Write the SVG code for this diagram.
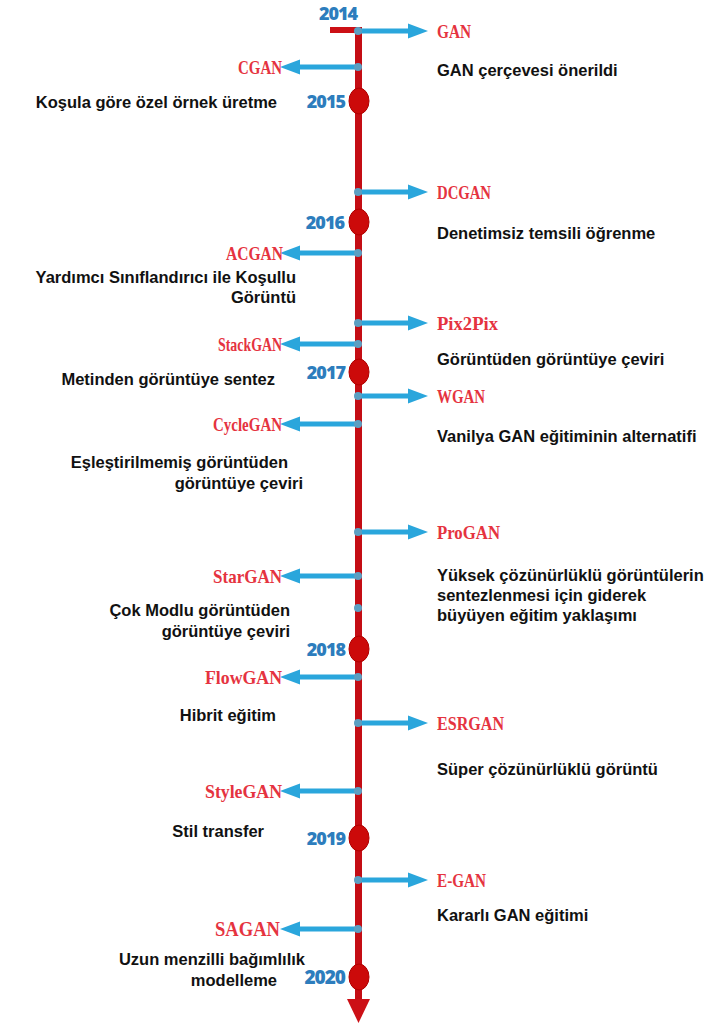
<svg xmlns="http://www.w3.org/2000/svg" width="727" height="1027" viewBox="0 0 727 1027">
<defs>
<style>
.yr{font-family:"Open Sans","DejaVu Sans",sans-serif;font-weight:800;font-size:18px;fill:#2d7dbd;letter-spacing:-1px}
.nm{font-family:"Liberation Serif","DejaVu Serif",serif;font-weight:bold;font-size:19px;fill:#e53340}
.ds{font-family:"Liberation Sans",Arial,sans-serif;font-weight:bold;font-size:16.5px;fill:#111}
.arr{fill:#2aa6dc}
.jn{fill:#5b9fc2}
.dot{fill:#cc0a0a;stroke:#b00000;stroke-width:1}
</style>
<g id="ra"><path class="arr" d="M0,-2.5 H50 V-7.5 L70,0 L50,7.5 V2.5 H0 Z"/><circle class="jn" cx="0" cy="0" r="4"/></g>
<g id="la"><path class="arr" d="M0,-2.5 H-58 V-7.5 L-78,0 L-58,7.5 V2.5 H0 Z"/><circle class="jn" cx="0" cy="0" r="4"/></g>
</defs>
<rect width="727" height="1027" fill="#fff"/>

<g id="timeline">
<rect x="330" y="27" width="29" height="6" fill="#cc1016"/>
<rect x="355" y="27" width="7" height="975" fill="#c40d14"/>
<path d="M347,999 L370,999 L358.5,1023 Z" fill="#cc1016"/>
<circle cx="358" cy="608" r="4" class="jn"/>
</g>

<g id="years">
<g id="y2014"><text class="yr" x="338" y="20" text-anchor="middle">2014</text></g>
<g id="y2015"><ellipse class="dot" cx="359" cy="101" rx="10" ry="13"/><text class="yr" x="345" y="108" text-anchor="end">2015</text></g>
<g id="y2016"><ellipse class="dot" cx="359" cy="222" rx="10" ry="13"/><text class="yr" x="344" y="229" text-anchor="end">2016</text></g>
<g id="y2017"><ellipse class="dot" cx="359" cy="372" rx="10" ry="13"/><text class="yr" x="345" y="379" text-anchor="end">2017</text></g>
<g id="y2018"><ellipse class="dot" cx="359" cy="649" rx="10" ry="13"/><text class="yr" x="345" y="656" text-anchor="end">2018</text></g>
<g id="y2019"><ellipse class="dot" cx="359" cy="838" rx="10" ry="13"/><text class="yr" x="345" y="845" text-anchor="end">2019</text></g>
<g id="y2020"><ellipse class="dot" cx="359" cy="977" rx="10" ry="13"/><text class="yr" x="345" y="984" text-anchor="end" style="font-size:19px">2020</text></g>
</g>

<g id="connectors">
<use href="#ra" x="358" y="31"/>
<use href="#la" x="358" y="67"/>
<use href="#ra" x="358" y="192"/>
<use href="#la" x="358" y="253"/>
<use href="#ra" x="358" y="323"/>
<use href="#la" x="358" y="344"/>
<use href="#ra" x="358" y="396"/>
<use href="#la" x="358" y="424"/>
<use href="#ra" x="358" y="532"/>
<use href="#la" x="358" y="576"/>
<use href="#la" x="358" y="677"/>
<use href="#ra" x="358" y="723"/>
<use href="#la" x="358" y="791"/>
<use href="#ra" x="358" y="880"/>
<use href="#la" x="358" y="929"/>
</g>

<g id="n-gan"><text class="nm" x="437" y="38" textLength="34" lengthAdjust="spacingAndGlyphs">GAN</text><text class="ds" x="437" y="76">GAN çerçevesi önerildi</text></g>
<g id="n-cgan"><text class="nm" x="238" y="74" textLength="44" lengthAdjust="spacingAndGlyphs">CGAN</text><text class="ds" x="277" y="108" text-anchor="end">Koşula göre özel örnek üretme</text></g>
<g id="n-dcgan"><text class="nm" x="437" y="199" textLength="54" lengthAdjust="spacingAndGlyphs">DCGAN</text><text class="ds" x="437" y="239">Denetimsiz temsili öğrenme</text></g>
<g id="n-acgan"><text class="nm" x="226" y="260" textLength="57" lengthAdjust="spacingAndGlyphs">ACGAN</text><text class="ds" x="296" y="283" text-anchor="end">Yardımcı Sınıflandırıcı ile Koşullu</text><text class="ds" x="296" y="303" text-anchor="end">Görüntü</text></g>
<g id="n-pix2pix"><text class="nm" x="437" y="330" textLength="61" lengthAdjust="spacingAndGlyphs">Pix2Pix</text><text class="ds" x="437" y="365">Görüntüden görüntüye çeviri</text></g>
<g id="n-stackgan"><text class="nm" x="218" y="351" textLength="64" lengthAdjust="spacingAndGlyphs">StackGAN</text><text class="ds" x="275" y="385" text-anchor="end">Metinden görüntüye sentez</text></g>
<g id="n-wgan"><text class="nm" x="437" y="403" textLength="48" lengthAdjust="spacingAndGlyphs">WGAN</text><text class="ds" x="437" y="442">Vanilya GAN eğitiminin alternatifi</text></g>
<g id="n-cyclegan"><text class="nm" x="213" y="431" textLength="69" lengthAdjust="spacingAndGlyphs">CycleGAN</text><text class="ds" x="288" y="468" text-anchor="end">Eşleştirilmemiş görüntüden</text><text class="ds" x="303" y="489" text-anchor="end">görüntüye çeviri</text></g>
<g id="n-progan"><text class="nm" x="437" y="539" textLength="63" lengthAdjust="spacingAndGlyphs">ProGAN</text><text class="ds" x="437" y="581">Yüksek çözünürlüklü görüntülerin</text><text class="ds" x="437" y="601">sentezlenmesi için giderek</text><text class="ds" x="437" y="621">büyüyen eğitim yaklaşımı</text></g>
<g id="n-stargan"><text class="nm" x="213" y="583" textLength="69" lengthAdjust="spacingAndGlyphs">StarGAN</text><text class="ds" x="290" y="616" text-anchor="end">Çok Modlu görüntüden</text><text class="ds" x="290" y="637" text-anchor="end">görüntüye çeviri</text></g>
<g id="n-flowgan"><text class="nm" x="205" y="684" textLength="77" lengthAdjust="spacingAndGlyphs">FlowGAN</text><text class="ds" x="276" y="721" text-anchor="end">Hibrit eğitim</text></g>
<g id="n-esrgan"><text class="nm" x="437" y="730" textLength="67" lengthAdjust="spacingAndGlyphs">ESRGAN</text><text class="ds" x="437" y="775">Süper çözünürlüklü görüntü</text></g>
<g id="n-stylegan"><text class="nm" x="205" y="798" textLength="77" lengthAdjust="spacingAndGlyphs">StyleGAN</text><text class="ds" x="264" y="837" text-anchor="end">Stil transfer</text></g>
<g id="n-egan"><text class="nm" x="437" y="887" textLength="49" lengthAdjust="spacingAndGlyphs">E-GAN</text><text class="ds" x="437" y="921">Kararlı GAN eğitimi</text></g>
<g id="n-sagan"><text class="nm" x="215" y="936" textLength="65" lengthAdjust="spacingAndGlyphs" style="font-size:21px">SAGAN</text><text class="ds" x="305" y="965" text-anchor="end">Uzun menzilli bağımlılık</text><text class="ds" x="277" y="986" text-anchor="end">modelleme</text></g>
</svg>
